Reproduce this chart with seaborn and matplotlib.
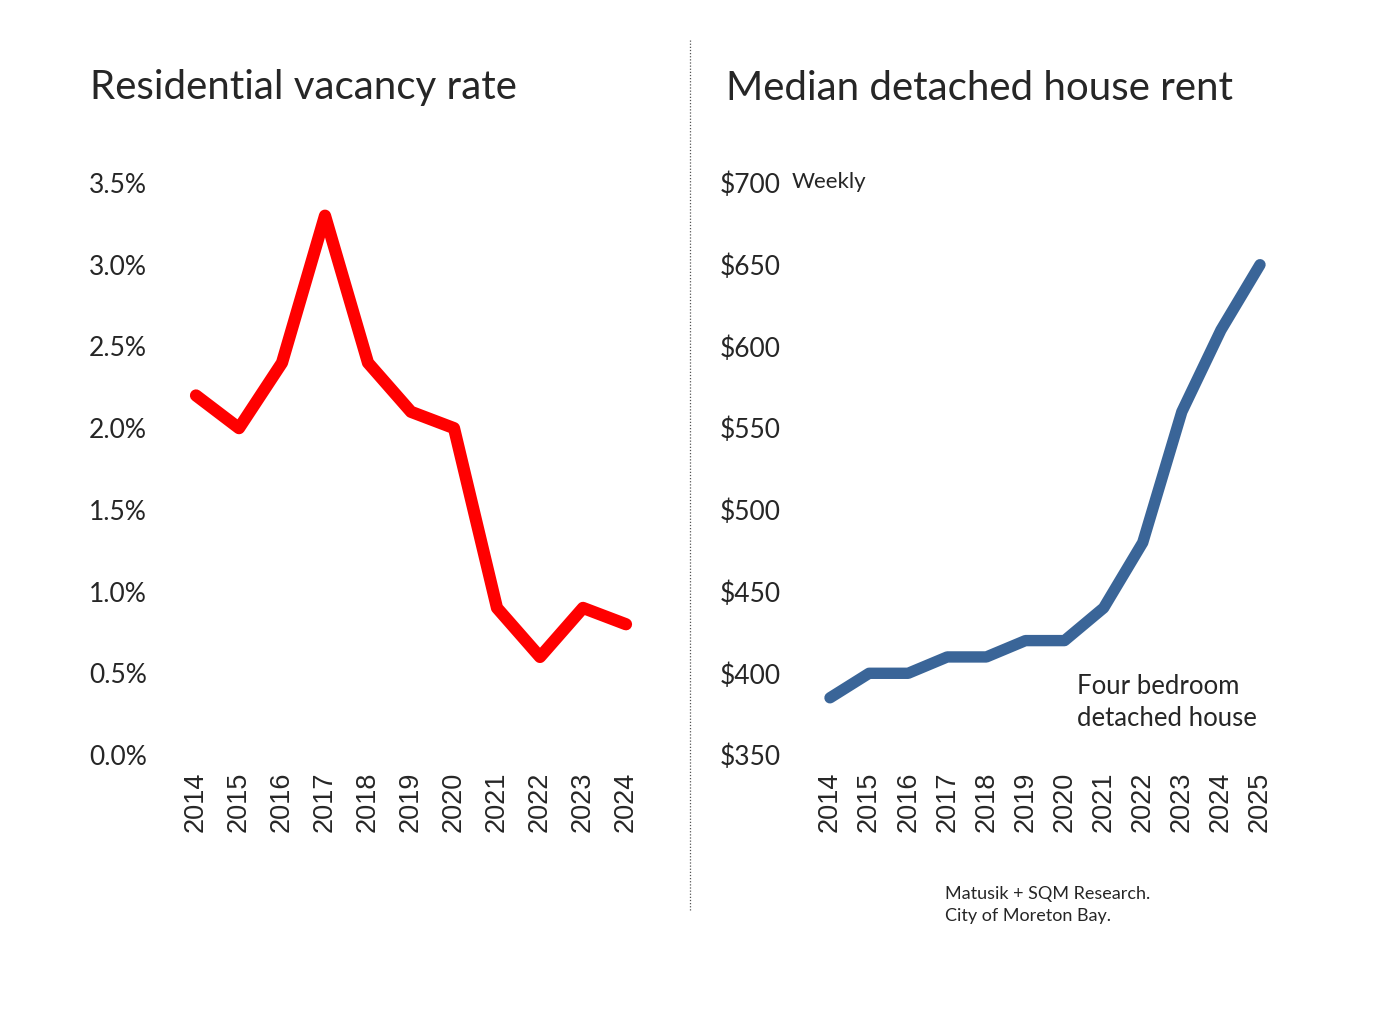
import matplotlib
matplotlib.use("Agg")
import matplotlib.pyplot as plt
import seaborn as sns
import pandas as pd
from matplotlib.lines import Line2D

# ---- data ----
vac_years = [2014, 2015, 2016, 2017, 2018, 2019, 2020, 2021, 2022, 2023, 2024]
vac_rate = [2.2, 2.0, 2.4, 3.3, 2.4, 2.1, 2.0, 0.9, 0.6, 0.9, 0.8]
rent_years = [2014, 2015, 2016, 2017, 2018, 2019, 2020, 2021, 2022, 2023, 2024, 2025]
rent_value = [385, 400, 400, 410, 410, 420, 420, 440, 480, 560, 610, 650]
vac_ticks = [0.0, 0.5, 1.0, 1.5, 2.0, 2.5, 3.0, 3.5]
vac_ticklabels = ["0.0%", "0.5%", "1.0%", "1.5%", "2.0%", "2.5%", "3.0%", "3.5%"]
rent_ticks = [350, 400, 450, 500, 550, 600, 650, 700]
rent_ticklabels = ["$350", "$400", "$450", "$500", "$550", "$600", "$650", "$700"]
title_left = "Residential vacancy rate"
title_right = "Median detached house rent"
source_text = "Matusik + SQM Research.\nCity of Moreton Bay."

sns.set_style("white")
plt.rcParams["font.family"] = ["Lato", "DejaVu Sans"]

W, H = 1380, 1035
fig = plt.figure(figsize=(13.8, 10.35), dpi=100)

def px_axes(x0, x1, ytop, ybot):
    return fig.add_axes([x0 / W, 1 - ybot / H, (x1 - x0) / W, (ybot - ytop) / H])

# left panel
axL = px_axes(180, 642, 183, 755)
dfL = pd.DataFrame({"year": vac_years, "rate": vac_rate})
sns.lineplot(data=dfL, x="year", y="rate", ax=axL, color="#FF0000", linewidth=8.8,
             solid_joinstyle="round", solid_capstyle="round")
axL.set_xlim(2014 - 16 / 43, 2024 + 16 / 43)
axL.set_ylim(0, 3.5)

# right panel
axR = px_axes(814, 1276, 183, 755)
dfR = pd.DataFrame({"year": rent_years, "rent": rent_value})
sns.lineplot(data=dfR, x="year", y="rent", ax=axR, color="#3A6598", linewidth=8.2,
             solid_joinstyle="round", solid_capstyle="round")
axR.set_xlim(2014 - 16 / 39.09, 2025 + 16 / 39.09)
axR.set_ylim(350, 700)

for ax, years, ticks, labels in [(axL, vac_years, vac_ticks, vac_ticklabels),
                                 (axR, rent_years, rent_ticks, rent_ticklabels)]:
    for s in ax.spines.values():
        s.set_visible(False)
    ax.set_xlabel("")
    ax.set_ylabel("")
    ax.set_facecolor("none")
    ax.set_xticks(years)
    ax.set_xticklabels([str(y) for y in years], rotation=90, fontsize=19.5,
                       family=["Liberation Sans", "DejaVu Sans"], va="top")
    ax.set_yticks(ticks)
    ax.set_yticklabels(labels, fontsize=19)
    ax.tick_params(axis="both", length=0)
    ax.tick_params(axis="x", pad=12)
    ax.tick_params(axis="y", pad=24)
    for ln in ax.lines:
        ln.set_clip_on(False)

# titles
fig.text(90 / W, 1 - 88 / H, title_left, fontsize=29, va="center", ha="left")
fig.text(726 / W, 1 - 88 / H, title_right, fontsize=29, va="center", ha="left")

# annotations
fig.text(792 / W, 1 - 182 / H, "Weekly", fontsize=16, va="center", ha="left")
fig.text(1077 / W, 1 - 703 / H, "Four bedroom\ndetached house", fontsize=18.5,
         va="center", ha="left", linespacing=1.35)
fig.text(945 / W, 1 - 905 / H, source_text, fontsize=13, va="center", ha="left",
         linespacing=1.4)

# separator
fig.add_artist(Line2D([690 / W, 690 / W], [1 - 40 / H, 1 - 910 / H],
                      transform=fig.transFigure, color="#555555", linewidth=0.9,
                      linestyle=(0, (1, 1.5))))

fig.savefig("out.png", dpi=100, facecolor="white")
